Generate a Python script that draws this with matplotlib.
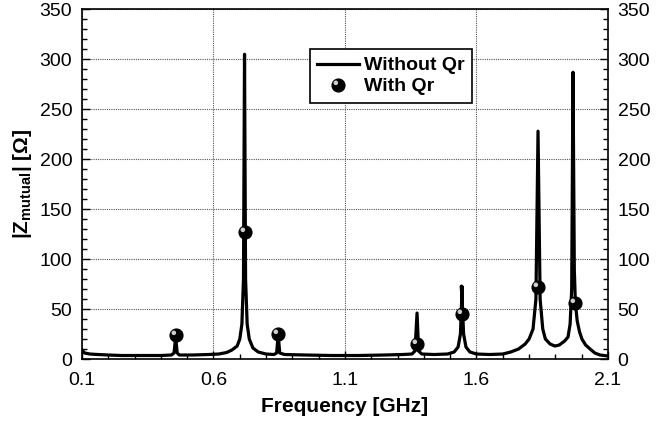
import matplotlib.pyplot as plt
import numpy as np
from matplotlib.path import Path
from matplotlib.ticker import MultipleLocator

plt.rcParams['font.family'] = 'Liberation Sans'
plt.rcParams['mathtext.fontset'] = 'custom'
plt.rcParams['mathtext.rm'] = 'Liberation Sans'
plt.rcParams['mathtext.bf'] = 'Liberation Sans:bold'

# |Z| without Qr (sampled spectrum, GHz / Ohm)
freq = [0.100, 0.110, 0.130, 0.160, 0.200, 0.250, 0.300, 0.350, 0.400, 0.440,
        0.450, 0.456, 0.462, 0.470, 0.520, 0.580, 0.620, 0.650, 0.670, 0.690,
        0.700, 0.708, 0.714, 0.718, 0.722, 0.728, 0.736, 0.750, 0.770, 0.800,
        0.830, 0.840, 0.846, 0.852, 0.870, 0.950, 1.050, 1.150, 1.250, 1.320,
        1.355, 1.366, 1.374, 1.380, 1.392, 1.440, 1.490, 1.515, 1.530, 1.539,
        1.544, 1.5425, 1.545, 1.5465, 1.545, 1.551, 1.560, 1.575, 1.600, 1.650,
        1.700, 1.730, 1.760, 1.785, 1.800, 1.815, 1.826, 1.834, 1.842, 1.852,
        1.862, 1.880, 1.898, 1.915, 1.935, 1.948, 1.956, 1.962, 1.967, 1.972,
        1.976, 1.983, 1.992, 2.001, 2.015, 2.032, 2.050, 2.070, 2.100]
z_without = [9, 6, 5, 4.5, 4, 3.5, 3.5, 3.5, 3.5, 4,
             6, 22, 6, 4, 4, 4.5, 5, 6.5, 9, 13,
             20, 35, 80, 305, 80, 35, 20, 11, 7, 5,
             4.5, 6, 24, 6, 4.5, 4, 3.5, 3.5, 4, 4.5,
             5, 8, 46, 8, 5, 4.5, 5, 7, 12, 25,
             62, 73, 62, 72, 62, 25, 12, 7, 5, 4.5,
             5, 7, 10, 15, 20, 30, 60, 228, 60, 30,
             20, 15, 13, 14, 18, 22, 35, 70, 287, 90,
             56, 38, 27, 20, 14, 10, 6, 4, 3]

# |Z| with Qr
freq_qr = [0.456, 0.718, 0.846, 1.374, 1.545, 1.834, 1.976]
z_with = [24, 127, 25, 15, 45, 72, 56]

fig = plt.figure(figsize=(6.56, 4.28), dpi=100)
ax = fig.add_axes([0.125, 0.1612, 0.8018, 0.817])

line, = ax.plot(freq, z_without, color='black', lw=2.3, solid_joinstyle='round',
                zorder=3)

# shaded ball: black disc plus an off-centre light highlight
t = np.linspace(0, 2 * np.pi, 40)
hl = Path(np.column_stack([-0.42 + 0.36 * np.cos(t), 0.42 + 0.36 * np.sin(t)]))
ball, = ax.plot(freq_qr, z_with, 'o', ms=9.2, color='black', mec='black', zorder=4)
shine, = ax.plot(freq_qr, z_with, ls='none', marker=hl, ms=9.2 * 0.78,
                 color='#cfcfcf', mec='none', zorder=5)

ax.set_xlim(0.1, 2.1)
ax.set_ylim(0, 350)
ax.set_xticks([0.1, 0.6, 1.1, 1.6, 2.1])
ax.set_yticks(np.arange(0, 351, 50))
ax.xaxis.set_minor_locator(MultipleLocator(0.1))
ax.yaxis.set_minor_locator(MultipleLocator(10))
ax.tick_params(which='both', direction='in', top=False, right=True,
               labelright=True, labelsize=14, width=1)
ax.tick_params(which='major', length=6)
ax.tick_params(which='minor', length=3.5)
ax.tick_params(axis='y', pad=7)
ax.tick_params(axis='x', pad=9)
ax.grid(True, which='major', ls=(0, (1, 1)), color='#555555', lw=0.8)
for s in ax.spines.values():
    s.set_linewidth(1.2)

ax.set_xlabel('Frequency [GHz]', fontsize=15, fontweight='bold', labelpad=6)
ax.set_ylabel(r'|Z$_{\mathbf{mutual}}$| [Ω]', fontsize=15, fontweight='bold', labelpad=4)

leg = ax.legend([line, (ball, shine)], ['Without Qr', 'With Qr'],
                loc='upper left', bbox_to_anchor=(0.4335, 0.8856),
                prop={'weight': 'bold', 'size': 14}, fancybox=False,
                edgecolor='black', framealpha=1, handlelength=2.15,
                borderpad=0.38, labelspacing=0.18, handletextpad=0.25,
                borderaxespad=0)
leg.get_frame().set_linewidth(1.2)

fig.savefig('out.png', dpi=100)
